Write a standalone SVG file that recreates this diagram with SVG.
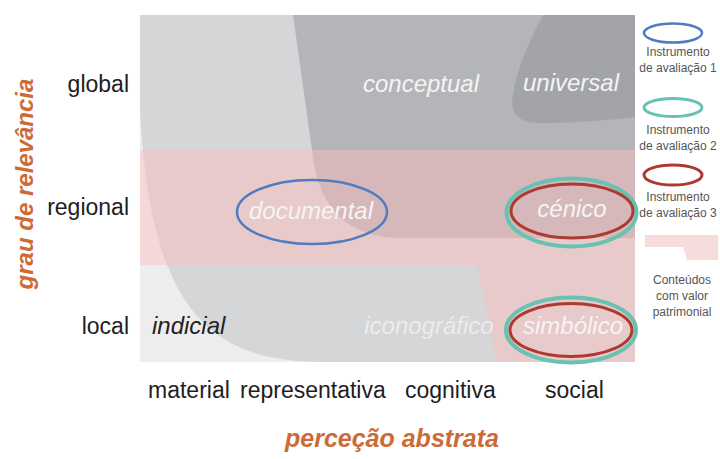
<svg xmlns="http://www.w3.org/2000/svg" width="720" height="459" viewBox="0 0 720 459">
  <style>
    .ax { font-family: "Liberation Sans", Arial, sans-serif; font-size: 23px; fill: #1e1e1e; }
    .title { font-family: "Liberation Sans", Arial, sans-serif; font-size: 24px; font-weight: bold; font-style: italic; fill: #cd6a36; }
    .lbl { font-family: "Liberation Sans", Arial, sans-serif; font-size: 24px; font-style: italic; fill: #f4f4f4; text-anchor: middle; }
    .lbl-dark { font-family: "Liberation Sans", Arial, sans-serif; font-size: 24px; font-style: italic; fill: #222222; }
    .leg { font-family: "Liberation Sans", Arial, sans-serif; font-size: 12px; fill: #555555; text-anchor: middle; }
    .i1 { fill: none; stroke: #4f7cc0; stroke-width: 2.5; }
    .i2 { fill: none; stroke: #68c2b2; stroke-width: 4; }
    .i3 { fill: none; stroke: #ad3a30; stroke-width: 3; }
    .pink { fill: #ffbcbc; fill-opacity: 0.45; }
  </style>
  <rect x="0" y="0" width="720" height="459" fill="#ffffff"/>

  <g id="chart-areas">
    <rect id="chart-bg" x="140" y="15" width="495" height="347" fill="#ededed"/>
    <path id="area-light" d="M140,15 L635,15 L635,362 L323,362 C210,362 150,310 140,110 Z" fill="#d5d6d8"/>
    <path id="area-conceptual" d="M293,15 L635,15 L635,238 L400,238 C352,238 318,212 312,150 Z" fill="#b4b5b9"/>
    <path id="area-universal" d="M543,15 L635,15 L635,117 C600,121 570,123 540,123 C515,123 510,110 513,95 C516,70 530,40 543,15 Z" fill="#a2a4a8"/>
    <path id="area-patrimonial" class="pink" d="M140,150 L635,150 L635,362 L497,362 L477,265 L140,265 Z"/>
  </g>

  <g id="connectors"></g>

  <g id="axis-y">
    <text class="title" transform="translate(33,184) rotate(-90)" text-anchor="middle">grau de relevância</text>
    <text class="ax" x="129" y="92" text-anchor="end">global</text>
    <text class="ax" x="129" y="215" text-anchor="end">regional</text>
    <text class="ax" x="129" y="334" text-anchor="end">local</text>
  </g>

  <g id="axis-x">
    <text class="ax" x="148" y="398">material</text>
    <text class="ax" x="240" y="398">representativa</text>
    <text class="ax" x="405" y="398">cognitiva</text>
    <text class="ax" x="545" y="398">social</text>
    <text class="title" x="392" y="447" text-anchor="middle" style="font-size:25px">perceção abstrata</text>
  </g>

  <g id="node-conceptual"><text class="lbl" x="421" y="92">conceptual</text></g>
  <g id="node-universal"><text class="lbl" x="571" y="91">universal</text></g>
  <g id="node-documental">
    <text class="lbl" x="311" y="219">documental</text>
    <ellipse class="i1" cx="312" cy="212" rx="75" ry="32"/>
  </g>
  <g id="node-cenico">
    <text class="lbl" x="572" y="217">cénico</text>
    <ellipse class="i2" cx="571.5" cy="212.5" rx="65" ry="34"/>
    <ellipse class="i3" cx="572" cy="211" rx="61" ry="27"/>
  </g>
  <g id="node-indicial"><text class="lbl-dark" x="152" y="334">indicial</text></g>
  <g id="node-iconografico"><text class="lbl" x="429" y="334" style="fill:#ececec">iconográfico</text></g>
  <g id="node-simbolico">
    <text class="lbl" x="573" y="334">simbólico</text>
    <ellipse class="i2" cx="571" cy="330" rx="65" ry="32.5"/>
    <ellipse class="i3" cx="571" cy="330" rx="61" ry="26.5"/>
  </g>

  <g id="legend">
    <g id="legend-1">
      <ellipse class="i1" cx="673" cy="33" rx="29" ry="9.5"/>
      <text class="leg" x="678" y="56">Instrumento</text>
      <text class="leg" x="678" y="72">de avaliação 1</text>
    </g>
    <g id="legend-2">
      <ellipse class="i2" cx="673" cy="107.5" rx="29" ry="9" style="stroke-width:3"/>
      <text class="leg" x="678" y="134">Instrumento</text>
      <text class="leg" x="678" y="150">de avaliação 2</text>
    </g>
    <g id="legend-3">
      <ellipse class="i3" cx="673" cy="175" rx="29" ry="10"/>
      <text class="leg" x="678" y="201">Instrumento</text>
      <text class="leg" x="678" y="217">de avaliação 3</text>
    </g>
    <g id="legend-4">
      <path d="M645,235 L718,235 L718,260 L687,260 L683,247 L645,247 Z" fill="#f7dcdc"/>
      <text class="leg" x="682" y="284">Conteúdos</text>
      <text class="leg" x="682" y="300">com valor</text>
      <text class="leg" x="682" y="316">patrimonial</text>
    </g>
  </g>
</svg>
